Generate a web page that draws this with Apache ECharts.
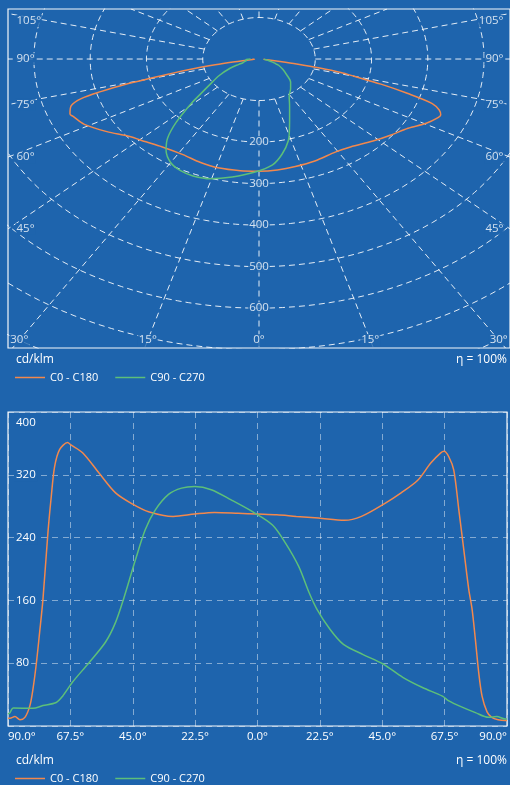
<!DOCTYPE html>
<html>
<head>
<meta charset="utf-8">
<script src="https://cdn.jsdelivr.net/npm/echarts/dist/echarts.min.js"></script>
<style>
html,body{margin:0;padding:0;background:#1e64ad;}
#c{width:510px;height:785px;}
</style>
</head>
<body>
<div id="c"></div>
<script>
// ---------- data ----------
const seriesNames = ['C0 - C180', 'C90 - C270'];
const c0Angles = [-90,-89.3,-87.5,-85.7,-83.9,-82.1,-81,-79.8,-78.6,-77.4,-75.6,-74.4,-73.2,-71.4,-68.5,-67.3,-63.1,-57.1,-51.2,-45.2,-39.3,-30.4,-22.6,-15.5,-7,0,7,14,22,31.4,37.5,45.7,51.8,57.8,62.5,66.1,67.3,69,70.8,72.6,74.4,76.2,77.4,78.6,79.8,81,82.8,84.5,86.8,89.3,90];
const c0Values = [10,10,12,8,11,26,47,79,119,161,246,292,330,352,361,358,348,322,297,283,273,267,270,272,271,270,269,267,265,262,267,283,297,313,335,348,350,343,326,276,225,174,149,110,68,38,18,11,8,7,7];
const c90Angles = [-90,-89.3,-88.1,-81,-77.4,-72.6,-70.3,-66.7,-60.7,-54.8,-51.2,-48.2,-44,-40.5,-36.9,-32.1,-27.4,-22.6,-16.7,-9.5,-1.8,5.4,10.1,14.9,18.6,21.4,26.2,31,38.1,45.3,52.4,59.5,66.7,69,73.8,78.6,83.3,86.3,89.3,90];
const c90Values = [15,17,23,22.5,26,30,38,56,81,107,132,163,212,250,275,295,303,305,301,288,273,256,233,203,170,149,123,104,91,79,62,49,38,32,24,17,11,12,9,9];

const ringValues = [100,200,300,400,500,600,700,800,900];
const ringLabels = [200,300,400,500,600];
const radialAngles = [-165,-150,-135,-120,-105,-90,-75,-60,-45,-30,-15,0,15,30,45,60,75,90,105,120,135,150,165,180];
const angleLabelTicks = [0,15,30,45,60,75,90,105];
const xTicks = [-90,-67.5,-45,-22.5,0,22.5,45,67.5,90];
const yTicks = [0,80,160,240,320,400];

// ---------- style ----------
const BG = '#1e64ad';
const ORANGE = '#f3884c';
const GREEN = '#5dbf79';
const FONT = "'Open Sans','Noto Sans',sans-serif";
const FS = 11.5;
const GRID_TOP = 'rgba(255,255,255,0.88)';
const GRID_BOT = 'rgba(255,255,255,0.45)';

// top (polar-like) panel geometry in data units
const X0 = 446, YTOP = -120.5, YBOT = 696;
const TOP_PX_PER_Y = 339 / (YBOT - YTOP);
const KA = 1.09; // radial grid direction aspect

const chart = echarts.init(document.getElementById('c'));

function toXY(angles, values) {
  return angles.map((a, i) => {
    const t = a * Math.PI / 180;
    return [values[i] * Math.sin(t), values[i] * Math.cos(t)];
  });
}
function frameHit(ux, uy) {
  let t = Infinity;
  if (Math.abs(ux) > 1e-9) t = Math.min(t, X0 / Math.abs(ux));
  if (uy > 1e-9) t = Math.min(t, YBOT / uy);
  else if (uy < -1e-9) t = Math.min(t, -YTOP / (-uy));
  return t;
}
function dir(a) {
  const t = a * Math.PI / 180;
  let ux = KA * Math.sin(t), uy = Math.cos(t);
  const n = Math.hypot(ux, uy);
  return [ux / n, uy / n];
}

const series = [];
// rings
ringValues.forEach(r => {
  const pts = [];
  for (let d = 0; d <= 360; d += 2) {
    const t = d * Math.PI / 180;
    pts.push([r * Math.sin(t), r * Math.cos(t)]);
  }
  series.push({type:'line', xAxisIndex:0, yAxisIndex:0, data:pts, showSymbol:false, silent:true,
    animation:false, z:1, lineStyle:{color:GRID_TOP, width:1, type:[6,4]}});
});
// radial lines
radialAngles.forEach(a => {
  const [ux, uy] = dir(a);
  const T = frameHit(ux, uy);
  series.push({type:'line', xAxisIndex:0, yAxisIndex:0, data:[[100*ux,100*uy],[T*ux,T*uy]],
    showSymbol:false, silent:true, animation:false, z:1, lineStyle:{color:GRID_TOP, width:1, type:[6,4]}});
});
// curves in top panel
series.push({name:seriesNames[0], type:'line', xAxisIndex:0, yAxisIndex:0, data:toXY(c0Angles, c0Values),
  smooth:0.3, showSymbol:false, animation:false, z:3, itemStyle:{color:ORANGE}, lineStyle:{color:ORANGE, width:1.5}});
series.push({name:seriesNames[1], type:'line', xAxisIndex:0, yAxisIndex:0, data:toXY(c90Angles, c90Values),
  smooth:0.3, showSymbol:false, animation:false, z:3, itemStyle:{color:GREEN}, lineStyle:{color:GREEN, width:1.5}});

// labels in top panel
const lblBase = {show:true, color:'#fff', fontSize:FS, fontFamily:FONT, backgroundColor:BG, padding:[0,1]};
const labelData = [];
ringLabels.forEach(r => labelData.push({value:[0, r], label:Object.assign({}, lblBase, {position:'inside', formatter:String(r)})}));
const minLabelY = YTOP + 12 / TOP_PX_PER_Y;
angleLabelTicks.forEach(a => {
  [-1, 1].forEach(s => {
    if (a === 0 && s === 1) return;
    const [ux, uy] = dir(s * a);
    const T = frameHit(ux, uy);
    const txt = a + '°';
    if (uy > 0 && T * uy >= YBOT - 1e-6) {
      const yl = YBOT - 8 / TOP_PX_PER_Y;
      labelData.push({value:[yl * ux / uy, yl], label:Object.assign({}, lblBase, {position:'inside', formatter:txt})});
    } else {
      labelData.push({value:[s * X0, Math.max(minLabelY, T * uy)], label:Object.assign({}, lblBase,
        {position: s < 0 ? 'right' : 'left', distance: s < 0 ? 7 : 5, formatter:txt})});
    }
  });
});
series.push({type:'scatter', xAxisIndex:0, yAxisIndex:0, data:labelData, symbolSize:1, silent:true, clip:false,
  animation:false, z:5, itemStyle:{color:'rgba(0,0,0,0)'}});

// bottom cartesian curves
series.push({name:seriesNames[0], type:'line', xAxisIndex:1, yAxisIndex:1, data:c0Angles.map((a,i)=>[a,c0Values[i]]),
  smooth:0.3, showSymbol:false, animation:false, z:3, itemStyle:{color:ORANGE}, lineStyle:{color:ORANGE, width:1.5}});
series.push({name:seriesNames[1], type:'line', xAxisIndex:1, yAxisIndex:1, data:c90Angles.map((a,i)=>[a,c90Values[i]]),
  smooth:0.3, showSymbol:false, animation:false, z:3, itemStyle:{color:GREEN}, lineStyle:{color:GREEN, width:1.5}});

const titleStyle = {color:'#fff', fontSize:12, fontWeight:'normal', fontFamily:FONT};
const legendBase = {data:seriesNames, icon:'rect', itemWidth:30, itemHeight:1.5, itemGap:17, padding:0,
  textStyle:{color:'#fff', fontSize:11, fontFamily:FONT}, selectedMode:false};

chart.setOption({
  backgroundColor: BG,
  animation: false,
  title: [
    {text:'cd/klm', left:16, top:354, padding:0, textStyle:titleStyle},
    {text:'η = 100%', right:3, top:354, padding:0, textStyle:titleStyle},
    {text:'cd/klm', left:16, top:755, padding:0, textStyle:titleStyle},
    {text:'η = 100%', right:3, top:755, padding:0, textStyle:titleStyle}
  ],
  legend: [
    Object.assign({}, legendBase, {left:15, top:372}),
    Object.assign({}, legendBase, {left:15, top:773})
  ],
  grid: [
    {left:8, top:9, width:504, height:339, show:true, borderColor:'#f4f7fb', borderWidth:1.2, backgroundColor:'transparent'},
    {left:8, top:412, width:504, height:314, show:true, borderColor:'#f4f7fb', borderWidth:1.2, backgroundColor:'transparent'}
  ],
  xAxis: [
    {gridIndex:0, type:'value', min:-X0, max:X0, show:false},
    {gridIndex:1, type:'value', min:xTicks[0], max:xTicks[xTicks.length-1], interval:xTicks[1]-xTicks[0],
      axisLine:{show:false}, axisTick:{show:false},
      splitLine:{show:true, lineStyle:{color:GRID_BOT, width:1, type:[6,5]}},
      axisLabel:{color:'#fff', fontSize:FS, fontFamily:FONT, margin:5, alignMinLabel:'left', alignMaxLabel:'right',
        formatter: v => Math.abs(v).toFixed(1) + '°'}}
  ],
  yAxis: [
    {gridIndex:0, type:'value', min:YTOP, max:YBOT, inverse:true, show:false},
    {gridIndex:1, type:'value', min:yTicks[0], max:yTicks[yTicks.length-1], interval:yTicks[1]-yTicks[0],
      axisLine:{show:false}, axisTick:{show:false},
      splitLine:{show:true, lineStyle:{color:GRID_BOT, width:1, type:[6,5]}},
      axisLabel:{inside:true, margin:6, color:'#fff', fontSize:FS, fontFamily:FONT,
        formatter: v => v === yTicks[0] ? '' : (v === yTicks[yTicks.length-1] ? '{t|' + v + '}' : '{n|' + v + '}'),
        rich:{
          n:{color:'#fff', fontSize:FS, fontFamily:FONT, backgroundColor:BG, padding:[1,2,1,2]},
          t:{color:'#fff', fontSize:FS, fontFamily:FONT, padding:[22,2,0,2]}
        }}}
  ],
  series: series
});
</script>
</body>
</html>
